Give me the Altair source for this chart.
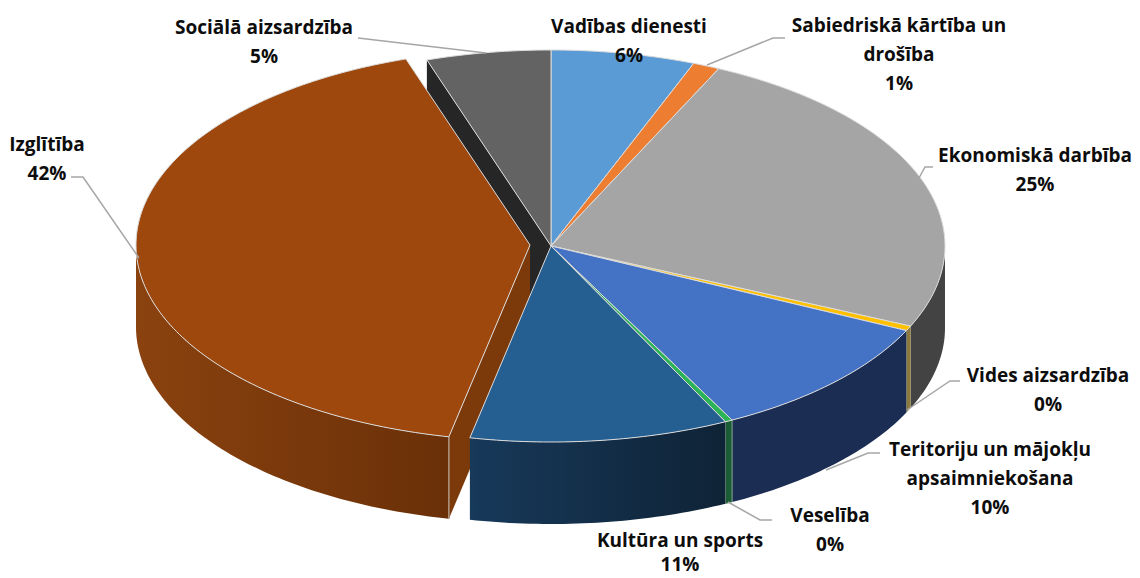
import math
import altair as alt

categories = ["Vadības dienesti", "Sabiedriskā kārtība un drošība", "Ekonomiskā darbība",
              "Vides aizsardzība", "Teritoriju un mājokļu apsaimniekošana", "Veselība",
              "Kultūra un sports", "Izglītība", "Sociālā aizsardzība"]
shares = [5.9, 1.1, 24.7, 0.4, 10.3, 0.3, 10.6, 41.6, 5.1]
top_colors = ["#5b9bd5", "#ed7d31", "#a5a5a5", "#ffc000", "#4472c4", "#2db357", "#255e91", "#9e480e", "#636363"]
wall_colors = ["#37618a", "#8e4b1d", "#434343", "#8c7a3c", "#1b2d52", "#1a5c33", "#15324f", "#7c3a0a", "#262626"]

CX, CY, A, B, DEPTH = 551, 246, 394, 196, 82
EXPLODE_X, EXPLODE_Y = -21, -1
EDGE = "#dcdcdc"
LEADER = "#a6a6a6"
FONT = "Open Sans"

starts = [0.0]
for s in shares:
    starts.append(starts[-1] + s * 3.6)


def pt(t, cx=CX, cy=CY):
    r = math.radians(t)
    return [cx + A * math.sin(r), cy - B * math.cos(r)]


def arc(t0, t1, cx=CX, cy=CY):
    n = max(2, int(abs(t1 - t0)) + 1)
    return [pt(t0 + (t1 - t0) * i / n, cx, cy) for i in range(n + 1)]


def feature(coords, kind="Polygon"):
    if kind == "Polygon":
        coords = [coords + [coords[0]]]
    return {"type": "Feature", "properties": {}, "geometry": {"type": kind, "coordinates": coords}}


PROJ = alt.Projection(type="identity", scale=1, translate=[-8, -8])


def shape(coords, fill, stroke=None, sw=1.0):
    kw = {"fill": fill, "strokeWidth": sw}
    kw["stroke"] = stroke if stroke else "transparent"
    return alt.Chart(alt.Data(values=[feature(coords)])).mark_geoshape(**kw).project(**PROJ.to_dict())


def wedge(i, cx=CX, cy=CY):
    return [[cx, cy]] + arc(starts[i], starts[i + 1], cx, cy)


def wall(t0, t1, cx=CX, cy=CY):
    top = arc(t0, t1, cx, cy)
    bottom = [[x, y + DEPTH] for x, y in top][::-1]
    return top + bottom


def grad(c0, c1):
    return alt.Gradient(gradient="linear", x1=0, x2=1, y1=0, y2=0,
                        stops=[alt.GradientStop(color=c0, offset=0), alt.GradientStop(color=c1, offset=1)])


def leader(coords):
    return (alt.Chart(alt.Data(values=[feature(coords, "LineString")]))
            .mark_geoshape(filled=False, stroke=LEADER, strokeWidth=1.5)
            .project(**PROJ.to_dict()))


ECX, ECY = CX + EXPLODE_X, CY + EXPLODE_Y
IZG, SOC, KUL = 7, 8, 6
layers = []

# back cut wall of the social slice, visible through the exploded gap
p_soc = pt(starts[SOC])
layers.append(shape([p_soc, [CX, CY], [CX, CY + DEPTH], [p_soc[0], p_soc[1] + DEPTH]], wall_colors[SOC]))

# exploded slice: cut wall, outer wall
p_izg = pt(starts[IZG], ECX, ECY)
layers.append(shape([[ECX, ECY], p_izg, [p_izg[0], p_izg[1] + DEPTH], [ECX, ECY + DEPTH]], wall_colors[IZG]))
layers.append(shape(wall(starts[IZG], 270, ECX, ECY), grad("#8a420f", "#6a3008")))
layers.append(shape([p_izg, [p_izg[0], p_izg[1] + DEPTH]], "transparent", "#b09a88", 1.0))

# outer walls of the slices in place
layers.append(shape(wall(90, starts[3]), wall_colors[2]))
layers.append(shape(wall(starts[3], starts[4]), wall_colors[3]))
layers.append(shape(wall(starts[4], starts[5]), wall_colors[4]))
layers.append(shape(wall(starts[5], starts[6]), wall_colors[5], "#9fb5a5", 0.8))
layers.append(shape(wall(starts[6], starts[7]), grad("#17395a", "#0f2336")))

# top faces
for i in range(len(shares)):
    if i == IZG:
        layers.append(shape(wedge(i, ECX, ECY), top_colors[i], EDGE, 1.0))
    else:
        layers.append(shape(wedge(i), top_colors[i], EDGE, 1.0))

# leader lines
leaders = [
    [[358, 38], [486, 53]],
    [[785, 38], [773, 38], [707, 65]],
    [[933, 167], [925, 167], [919, 178]],
    [[960, 381], [950, 381], [907, 410]],
    [[880, 453], [868, 453], [826, 470]],
    [[728, 502], [760, 520], [772, 520]],
    [[71, 177], [83, 177], [139, 258]],
]
for c in leaders:
    layers.append(leader(c))

# labels: category text lines then the rounded share
label_lines = [
    ["Vadības dienesti"],
    ["Sabiedriskā kārtība un", "drošība"],
    ["Ekonomiskā darbība"],
    ["Vides aizsardzība"],
    ["Teritoriju un mājokļu", "apsaimniekošana"],
    ["Veselība"],
    ["Kultūra un sports"],
    ["Izglītība"],
    ["Sociālā aizsardzība"],
]
label_x = [629, 899, 1035, 1048, 990, 830, 680, 47, 264]
label_y = [27, 26, 156, 376, 450, 516, 541, 145, 28]
label_step = [29, 29, 29, 29, 29, 29, 24, 29, 29]

for lines, share, x, y, step in zip(label_lines, shares, label_x, label_y, label_step):
    rows = lines + [f"{round(share)}%"]
    for j, txt in enumerate(rows):
        layers.append(
            alt.Chart(alt.Data(values=[{"t": txt}]))
            .mark_text(font=FONT, fontWeight="bold", fontSize=19, color="#0d0d0d", align="center", baseline="middle")
            .encode(text="t:N", x=alt.value(x - 8), y=alt.value(y + j * step - 8))
        )

chart = (
    alt.layer(*layers)
    .properties(width=1124, height=570, padding=0, autosize=alt.AutoSizeParams(type="none"), background="white")
    .configure_view(stroke=None)
)
chart.save("out.html", embed_options={"renderer": "svg", "actions": False})
